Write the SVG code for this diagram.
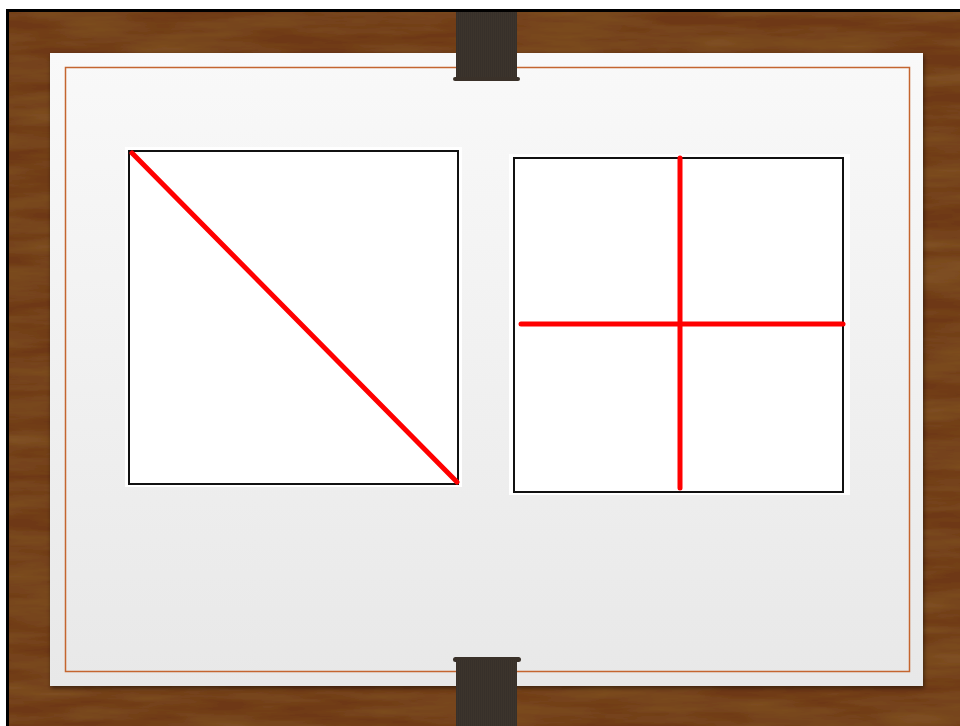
<svg xmlns="http://www.w3.org/2000/svg" width="960" height="726" viewBox="0 0 960 726">
  <defs>
    <filter id="wood" x="0" y="0" width="100%" height="100%">
      <feTurbulence type="fractalNoise" baseFrequency="0.008 0.06" numOctaves="4" seed="7" result="n"/>
      <feColorMatrix in="n" type="matrix" values="0 0 0 0 0.24  0 0 0 0 0.10  0 0 0 0 0.02  0 0 0 -1.2 0.85" result="dark"/>
      <feFlood flood-color="#6e3814" result="base"/>
      <feComposite in="dark" in2="base" operator="over"/>
    </filter>
    <linearGradient id="paper" x1="0" y1="0" x2="0" y2="1">
      <stop offset="0" stop-color="#f9f9f9"/>
      <stop offset="1" stop-color="#e8e8e8"/>
    </linearGradient>
    <filter id="shadow" x="-5%" y="-5%" width="110%" height="110%">
      <feDropShadow dx="1" dy="2" stdDeviation="2" flood-color="#000" flood-opacity="0.5"/>
    </filter>
    <pattern id="strap" width="2" height="3" patternUnits="userSpaceOnUse">
      <rect width="2" height="3" fill="#3c342c"/>
      <rect width="1" height="3" fill="#37302a"/>
    </pattern>
    <style>
      .frame { fill: none; stroke: #111; stroke-width: 2; }
      .red { stroke: #ff0000; stroke-width: 5; stroke-linecap: round; fill: none; }
      .clip { fill: url(#strap); }
      .lip { fill: #3a3129; }
    </style>
  </defs>

  <rect width="960" height="726" fill="#fff"/>
  <rect x="6" y="9" width="954" height="717" fill="#000"/>
  <rect x="9" y="12" width="951" height="714" fill="#6e3814" filter="url(#wood)"/>

  <rect x="50" y="53" width="873" height="633" fill="url(#paper)" filter="url(#shadow)"/>
  <rect x="65.5" y="67.5" width="844" height="604" fill="none" stroke="#c4652f" stroke-width="1.5"/>

  <g id="clip-top">
    <rect class="clip" x="456" y="12" width="61" height="68"/>
    <rect class="lip" x="453" y="77" width="67" height="4" rx="2"/>
  </g>
  <g id="clip-bottom">
    <rect class="lip" x="453" y="657" width="68" height="5" rx="2.5"/>
    <rect class="clip" x="456" y="660" width="61" height="66"/>
  </g>

  <g id="square-diagonal">
    <rect x="125" y="147" width="337" height="340" fill="#fff"/>
    <rect class="frame" x="129" y="151" width="329" height="333"/>
    <line class="red" x1="132" y1="153" x2="457" y2="482"/>
  </g>

  <g id="square-cross">
    <rect x="509" y="154" width="341" height="341" fill="#fff"/>
    <rect class="frame" x="514" y="158" width="329" height="334"/>
    <line class="red" x1="680" y1="158" x2="680" y2="488"/>
    <line class="red" x1="521" y1="324" x2="843" y2="324"/>
  </g>
</svg>
